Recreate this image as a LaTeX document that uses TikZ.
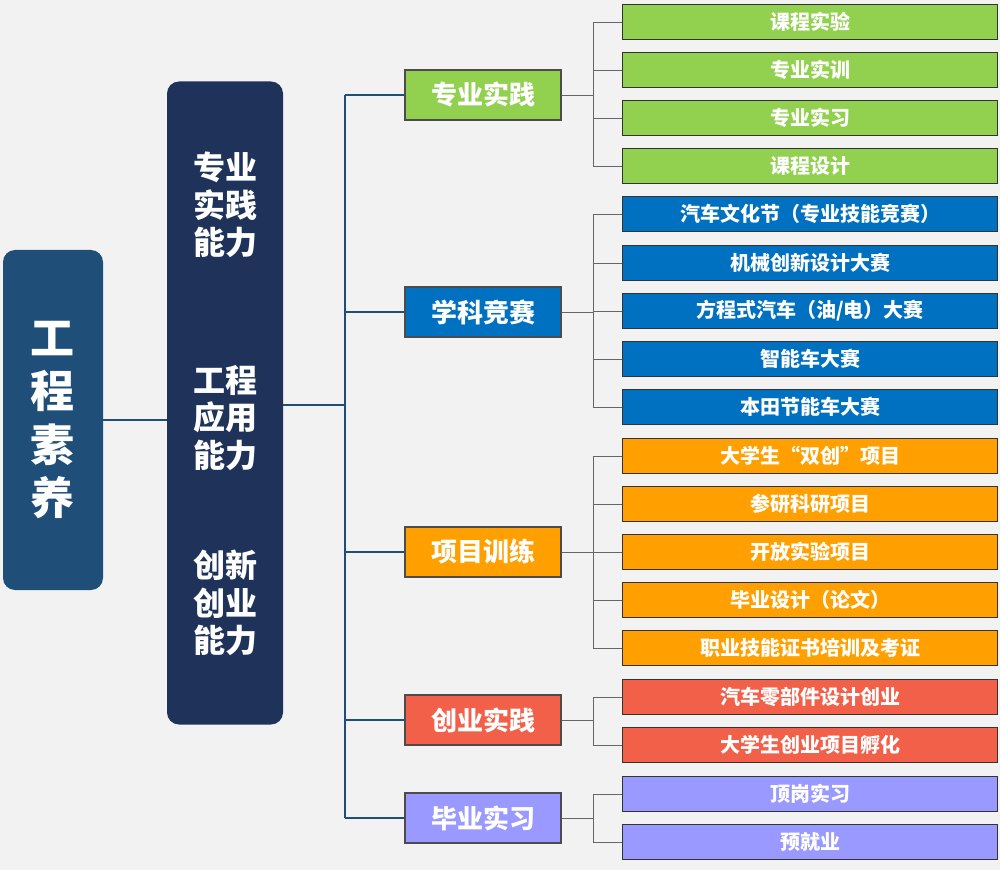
\documentclass[tikz,border=0pt]{standalone}
\usepackage{fontspec}
\setmainfont{Noto Sans CJK SC}
\begin{document}
\begin{tikzpicture}[x=0.75pt,y=-0.75pt,
  lvthree/.style={draw=black!80,line width=1pt,minimum width=375*0.75pt,minimum height=35*0.75pt,inner sep=0pt,text=white,font=\bfseries\fontsize{15}{17}\selectfont},
  lvtwo/.style={draw=black!70,line width=0.8pt,minimum width=156*0.75pt,minimum height=50*0.75pt,inner sep=0pt,text=white,font=\bfseries\fontsize{19.5}{22}\selectfont},
  thin/.style={draw=black!60,line width=0.7pt},
  spine/.style={draw=spc,line width=2.2pt}]
\definecolor{bg}{HTML}{F2F2F2}
\definecolor{spc}{HTML}{1F4E79}
\definecolor{gr}{HTML}{92D050}
\definecolor{bl}{HTML}{0070C0}
\definecolor{og}{HTML}{FFA000}
\definecolor{rd}{HTML}{F2604A}
\definecolor{lv}{HTML}{9999FF}
\definecolor{nv}{HTML}{1F3259}
\fill[bg] (0,0) rectangle (1000,870);
\useasboundingbox (0,0) rectangle (1000,870);
\node[fill=spc,rounded corners=9pt,minimum width=100*0.75pt,minimum height=340*0.75pt,text=white,align=center,font=\bfseries\fontsize{33}{40}\selectfont] (root) at (53,420) {工\\程\\素\\养};
\node[fill=nv,rounded corners=9pt,minimum width=116*0.75pt,minimum height=643*0.75pt] (mid) at (225,403) {};
\node[text=white,align=center,font=\bfseries\fontsize{24}{28}\selectfont] (m1) at (225,205) {专业\\实践\\能力};
\node[text=white,align=center,font=\bfseries\fontsize{24}{28}\selectfont] (m2) at (225,418) {工程\\应用\\能力};
\node[text=white,align=center,font=\bfseries\fontsize{24}{28}\selectfont] (m3) at (225,603) {创新\\创业\\能力};
\draw[spine] (root.east) -- (mid.west|-root.east);
\coordinate (sp) at (345,405);
\draw[spine] (mid.east|-sp) -- (sp);
\coordinate (sptop) at (345,95);
\coordinate (spbot) at (345,818);
\draw[spine] (sptop) -- (spbot);
\node[lvtwo,fill=gr] (a) at (483,95) {专业实践};
\node[lvtwo,fill=bl] (b) at (483,312) {学科竞赛};
\node[lvtwo,fill=og] (c) at (483,552) {项目训练};
\node[lvtwo,fill=rd] (d) at (483,720) {创业实践};
\node[lvtwo,fill=lv] (e) at (483,818) {毕业实习};
\foreach \n in {a,b,c,d,e} \draw[spine] (sptop|-\n.west) -- (\n.west);
\foreach \n/\col/\ys/\txts in {
 a/gr/{22,70,118,166}/{课程实验,专业实训,专业实习,课程设计},
 b/bl/{214,263,311,359,407}/{汽车文化节（专业技能竞赛）,机械创新设计大赛,方程式汽车（油/电）大赛,智能车大赛,本田节能车大赛},
 c/og/{456,504,552,600,648}/{大学生“双创”项目,参研科研项目,开放实验项目,毕业设计（论文）,职业技能证书培训及考证},
 d/rd/{697,745}/{汽车零部件设计创业,大学生创业项目孵化},
 e/lv/{794,842}/{顶岗实习,预就业}}{
  \coordinate (\n j) at (593,0|-\n.east);
  \draw[thin] (\n.east) -- (\n j);
  \foreach \y [count=\i] in \ys {
    \pgfmathsetmacro{\dummy}{0}
  }
}
% level three nodes
\def\mk#1#2#3#4{\node[lvthree,fill=#2] (#1) at (810,#3) {#4};}
\mk{a1}{gr}{22}{课程实验}\mk{a2}{gr}{70}{专业实训}\mk{a3}{gr}{118}{专业实习}\mk{a4}{gr}{166}{课程设计}
\mk{b1}{bl}{214}{汽车文化节（专业技能竞赛）}\mk{b2}{bl}{263}{机械创新设计大赛}\mk{b3}{bl}{311}{方程式汽车（油/电）大赛}\mk{b4}{bl}{359}{智能车大赛}\mk{b5}{bl}{407}{本田节能车大赛}
\mk{c1}{og}{456}{大学生“双创”项目}\mk{c2}{og}{504}{参研科研项目}\mk{c3}{og}{552}{开放实验项目}\mk{c4}{og}{600}{毕业设计（论文）}\mk{c5}{og}{648}{职业技能证书培训及考证}
\mk{d1}{rd}{697}{汽车零部件设计创业}\mk{d2}{rd}{745}{大学生创业项目孵化}
\mk{e1}{lv}{794}{顶岗实习}\mk{e2}{lv}{842}{预就业}
\draw[thin] (aj|-a1.west) -- (aj|-a4.west);
\draw[thin] (bj|-b1.west) -- (bj|-b5.west);
\draw[thin] (cj|-c1.west) -- (cj|-c5.west);
\draw[thin] (dj|-d1.west) -- (dj|-d2.west);
\draw[thin] (ej|-e1.west) -- (ej|-e2.west);
\foreach \n in {a1,a2,a3,a4} \draw[thin] (aj|-\n.west) -- (\n.west);
\foreach \n in {b1,b2,b3,b4,b5} \draw[thin] (bj|-\n.west) -- (\n.west);
\foreach \n in {c1,c2,c3,c4,c5} \draw[thin] (cj|-\n.west) -- (\n.west);
\foreach \n in {d1,d2} \draw[thin] (dj|-\n.west) -- (\n.west);
\foreach \n in {e1,e2} \draw[thin] (ej|-\n.west) -- (\n.west);
\end{tikzpicture}
\end{document}
